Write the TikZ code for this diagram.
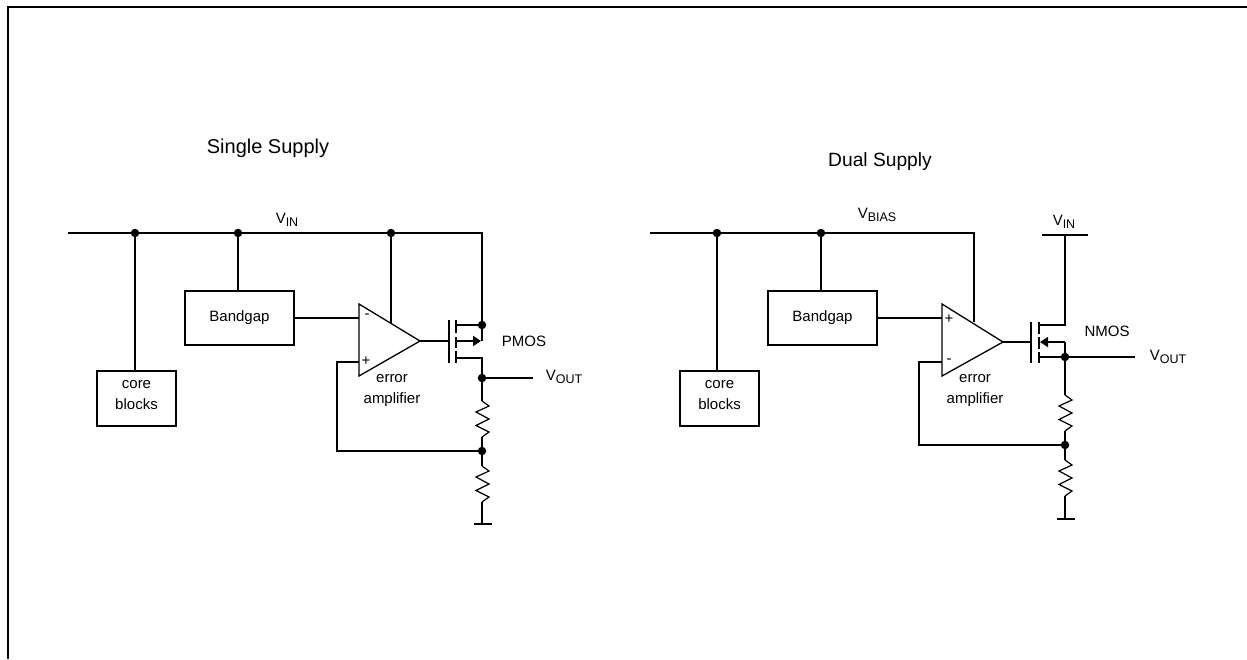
\documentclass[tikz,border=0pt]{standalone}
\usepackage{fontspec}
\setmainfont{Liberation Sans}
\usetikzlibrary{arrows.meta}

\newcommand{\vname}[1]{V\raisebox{-0.22em}{\fontsize{12.5}{12.5}\selectfont #1}}

\tikzset{
	wire/.style = {line width = 1.8pt},
	block/.style = {draw, line width = 1.5pt, inner sep = 0pt, align = center, font = \fontsize{15}{21}\selectfont},
	corebox/.style = {block, minimum width = 79pt, minimum height = 55pt},
	gapbox/.style = {block, minimum width = 109pt, minimum height = 54pt},
	dot/.style = {circle, fill, inner sep = 0pt, minimum size = 8.5pt},
	tag/.style = {inner sep = 0pt, align = center, font = \fontsize{15}{21}\selectfont},
	bodyarrow/.style = {-{Triangle[length = 8pt, width = 10pt]}},
	zag/.pic = {\draw [line width = 1.2pt, line join = miter] (0,0) -- (7,5) -- (-6,11) -- (7,18) -- (-6,24.5) -- (7,31) -- (0,36);}
}

\begin{document}
\begin{tikzpicture}[x = 1pt, y = -1pt]
	\useasboundingbox (0,0) rectangle (1247,659);

	\def\yRAIL{233};
	\def\yGAP{318};
	\def\yFB{362};

	% frame
	\coordinate (frameA) at (8,659);
	\coordinate (frameB) at (8,7);
	\coordinate (frameC) at (1247,7);
	\draw [line width = 2.2pt] (frameA) -- (frameB) -- (frameC);

	\node [tag, font = \fontsize{20}{21}\selectfont] (titleS) at (268,148.5) {Single Supply};
	\node [tag, font = \fontsize{19.2}{21}\selectfont] (titleD) at (880,161.5) {Dual Supply};

	% single supply
	\begin{scope}
		\coordinate (railA) at (68,\yRAIL);
		\coordinate (railB) at (482,\yRAIL);
		\node [dot] (dotCore) at (135,\yRAIL) {};
		\node [dot] (dotGap) at (238,\yRAIL) {};
		\node [dot] (dotAmp) at (391,\yRAIL) {};
		\node [corebox] (core) at (136.5,398.5) {\raisebox{3.5pt}[\height][\depth]{\shortstack{core\\[7pt]blocks}}};
		\node [gapbox] (gap) at (239.5,318) {Bandgap};

		\coordinate (ampA) at (359,304);
		\coordinate (ampB) at (359,376);
		\coordinate (ampC) at (420,341);
		\coordinate (ampSup) at (391,323);
		\coordinate (ampM) at (359,\yGAP);
		\coordinate (ampP) at (359,\yFB);
		\coordinate (fbA) at (337,\yFB);
		\coordinate (fbB) at (337,451);
		\node [dot] (dotFb) at (482,451) {};
		\node [dot] (dotS) at (482,325) {};
		\node [dot] (dotOut) at (482,378) {};
		\coordinate (outEnd) at (533,378);

		\coordinate (gate) at (449,341);
		\coordinate (gateA) at (449,320);
		\coordinate (gateB) at (449,363);
		\coordinate (srcA) at (456,325);
		\coordinate (bodyA) at (456,341);
		\coordinate (bodyB) at (481,341);
		\coordinate (bodyC) at (482,341);
		\coordinate (drnA) at (456,358);
		\coordinate (drnB) at (482,358);
		\coordinate (resA) at (482,401);
		\coordinate (resB) at (482,437);
		\coordinate (resC) at (482,466);
		\coordinate (resD) at (482,502);
		\coordinate (gnd) at (482,524);
		\coordinate (gndA) at (474,524);
		\coordinate (gndB) at (492,524);

		\draw [wire] (railA) -- (railB) -- (dotS) -- (bodyC);
		\draw [wire] (dotCore) -- (dotCore |- core.north);
		\draw [wire] (dotGap) -- (dotGap |- gap.north);
		\draw [wire] (dotAmp) -- (ampSup);
		\draw [wire] (gap.east |- ampM) -- (ampM);
		\draw [line width = 1.3pt, line join = miter] (ampA) -- (ampB) -- (ampC) -- cycle;
		\draw [wire] (ampP) -- (fbA) -- (fbB) -- (dotFb);
		\draw [wire] (ampC) -- (gate);
		\draw [wire] (gateA) -- (gateB);
		\draw [wire] (456,320) -- (456,333);
		\draw [wire] (456,337) -- (456,348);
		\draw [wire] (456,351) -- (456,363);
		\draw [wire] (srcA) -- (dotS);
		\draw [wire, bodyarrow] (bodyA) -- (bodyB);
		\draw [wire] (drnA) -- (drnB) -- (resA);
		\draw [wire] (dotOut) -- (outEnd);
		\pic at (resA) {zag};
		\draw [wire] (resB) -- (resC);
		\pic at (resC) {zag};
		\draw [wire] (resD) -- (gnd);
		\draw [wire] (gndA) -- (gndB);

		\node [tag] (vin) at (287,220) {\vname{IN}};
		\node [tag] (pmos) at (524,341) {PMOS};
		\node [tag] (vout) at (564,377) {\vname{OUT}};
		\node [tag] (ampName) at (392,391) {error\\amplifier};
		\node [tag] (minus) at (367,316) {-};
		\node [tag] (plus) at (366,361) {+};
	\end{scope}

	% dual supply
	\begin{scope}
		\coordinate (railC) at (650,\yRAIL);
		\coordinate (railD) at (974,\yRAIL);
		\node [dot] (dotCoreD) at (717,\yRAIL) {};
		\node [dot] (dotGapD) at (821,\yRAIL) {};
		\node [corebox] (coreD) at (719.5,398.5) {\raisebox{3.5pt}[\height][\depth]{\shortstack{core\\[7pt]blocks}}};
		\node [gapbox] (gapD) at (822.5,318) {Bandgap};

		\coordinate (ampDA) at (942,304);
		\coordinate (ampDB) at (942,376);
		\coordinate (ampDC) at (1003,342);
		\coordinate (ampDSup) at (974,322);
		\coordinate (ampDP) at (942,\yGAP);
		\coordinate (ampDM) at (942,\yFB);
		\coordinate (fbC) at (919,\yFB);
		\coordinate (fbD) at (919,445);
		\node [dot] (dotFbD) at (1065,445) {};
		\node [dot] (dotOutD) at (1065,357) {};
		\coordinate (outEndD) at (1135,357);

		\coordinate (gateD) at (1031,342);
		\coordinate (gateDA) at (1031,322);
		\coordinate (gateDB) at (1031,363);
		\coordinate (drnDA) at (1039,325);
		\coordinate (drnDB) at (1065,325);
		\coordinate (supD) at (1065,235);
		\coordinate (supDA) at (1042,235);
		\coordinate (supDB) at (1088,235);
		\coordinate (bodyDA) at (1065,342);
		\coordinate (bodyDB) at (1040,342);
		\coordinate (srcDA) at (1039,357);
		\coordinate (resDA) at (1065,395);
		\coordinate (resDB) at (1065,431);
		\coordinate (resDC) at (1065,460);
		\coordinate (resDD) at (1065,496);
		\coordinate (gndD) at (1065,519);
		\coordinate (gndDA) at (1057,519);
		\coordinate (gndDB) at (1075,519);

		\draw [wire] (railC) -- (railD) -- (ampDSup);
		\draw [wire] (dotCoreD) -- (dotCoreD |- coreD.north);
		\draw [wire] (dotGapD) -- (dotGapD |- gapD.north);
		\draw [wire] (gapD.east |- ampDP) -- (ampDP);
		\draw [line width = 1.3pt, line join = miter] (ampDA) -- (ampDB) -- (ampDC) -- cycle;
		\draw [wire] (ampDM) -- (fbC) -- (fbD) -- (dotFbD);
		\draw [wire] (ampDC) -- (gateD);
		\draw [wire] (gateDA) -- (gateDB);
		\draw [wire] (1039,322) -- (1039,334);
		\draw [wire] (1039,337) -- (1039,349);
		\draw [wire] (1039,352) -- (1039,363);
		\draw [wire] (supDA) -- (supDB);
		\draw [wire] (supD) -- (drnDB) -- (drnDA);
		\draw [wire, bodyarrow] (bodyDA) -- (bodyDB);
		\draw [wire] (bodyDA) -- (dotOutD) -- (resDA);
		\draw [wire] (srcDA) -- (outEndD);
		\pic at (resDA) {zag};
		\draw [wire] (resDB) -- (resDC);
		\pic at (resDC) {zag};
		\draw [wire] (resDD) -- (gndD);
		\draw [wire] (gndDA) -- (gndDB);

		\node [tag] (vbias) at (877,215) {\vname{BIAS}};
		\node [tag] (vinD) at (1064,222) {\vname{IN}};
		\node [tag] (nmos) at (1107,331) {NMOS};
		\node [tag] (voutD) at (1168,357) {\vname{OUT}};
		\node [tag] (ampNameD) at (975,391) {error\\amplifier};
		\node [tag] (plusD) at (949,319) {+};
		\node [tag] (minusD) at (949,361) {-};
	\end{scope}
\end{tikzpicture}
\end{document}
